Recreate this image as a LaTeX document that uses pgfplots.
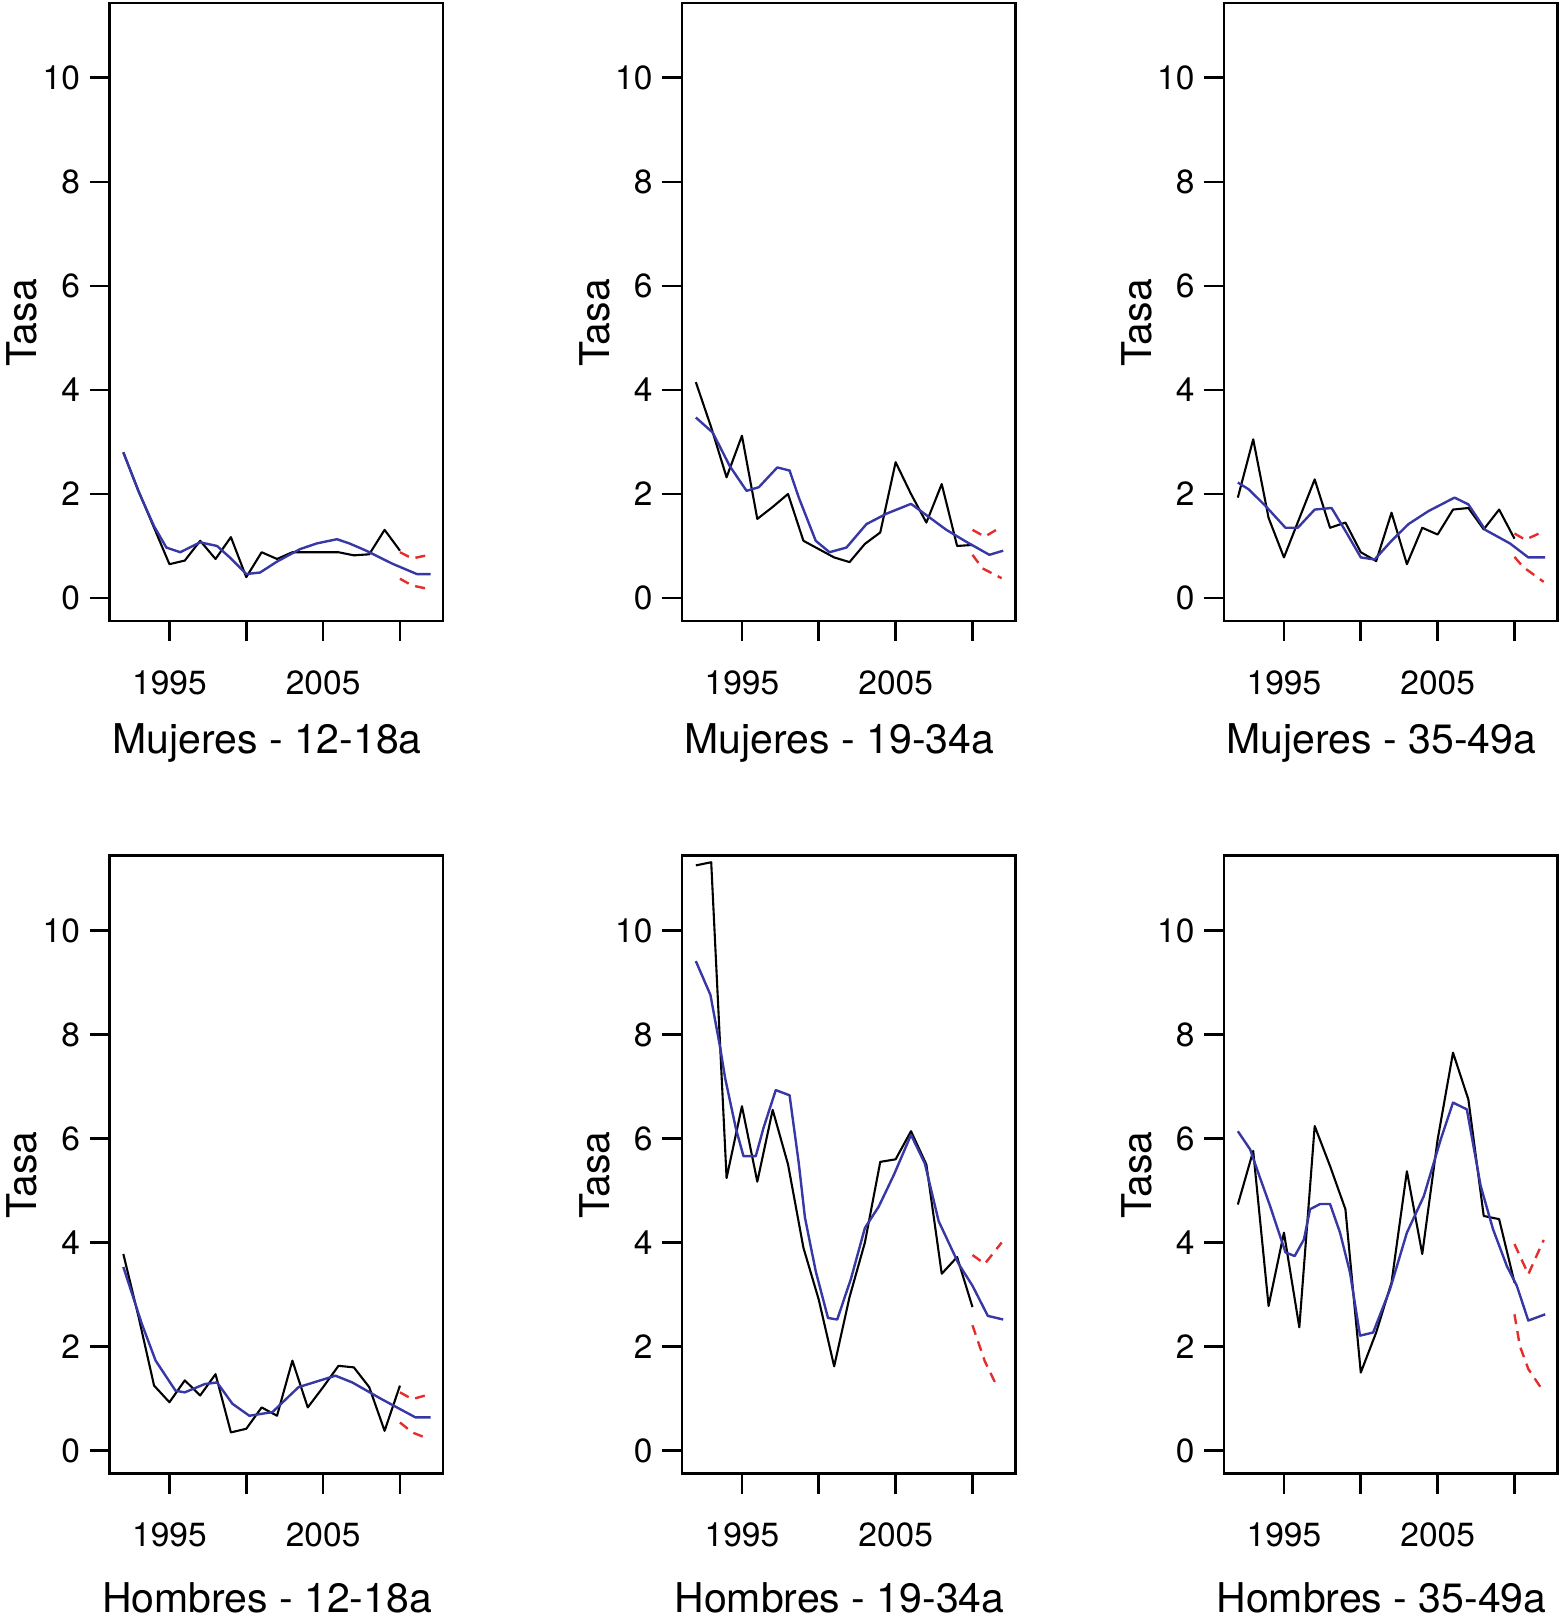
\documentclass[border=0pt]{standalone}
\usepackage{fontspec}
\setmainfont{TeX Gyre Heros}
\usepackage{pgfplots}
\pgfplotsset{compat=1.18}
\definecolor{fitblue}{RGB}{55,55,165}
\definecolor{pired}{RGB}{230,45,45}
\pgfplotsset{
  panel/.style={
    scale only axis, width=166.75pt, height=309pt,
    xmin=1991.1, xmax=2012.8, ymin=-0.44, ymax=11.44,
    axis line style={line width=1.3pt, black},
    xtick={1995,2000,2005,2010}, xticklabels={1995,,2005,},
    ytick={0,2,4,6,8,10},
    xtick pos=left, ytick pos=left,
    tick align=outside,
    major tick length=10pt,
    every tick/.style={line width=1.3pt, black},
    ticklabel style={font=\fontsize{16.75}{20}\selectfont},
    /pgf/number format/assume math mode=true,
    yticklabel style={anchor=east, inner sep=0pt, xshift=-4.6pt},
    xticklabel style={anchor=north, inner sep=0pt, yshift=-14.5pt},
    ylabel={Tasa},
    ylabel style={at={(axis description cs:-0.2183,0.4827)}, anchor=base, font=\fontsize{20.5}{24}\selectfont},
    label style={font=\fontsize{20.5}{24}\selectfont},
    clip=true,
  },
  toprow/.style={xlabel style={at={(axis description cs:0.4723,-0.2141)}, anchor=base}},
  botrow/.style={xlabel style={at={(axis description cs:0.4723,-0.2254)}, anchor=base}},
  obs/.style={line width=1.05pt, black, no markers, line join=round},
  fit/.style={line width=1.2pt, fitblue, no markers, line join=round},
  pi/.style={line width=1.2pt, pired, no markers, dash pattern=on 5pt off 3.5pt},
}
\begin{document}
\begin{tikzpicture}
\path[use as bounding box] (0,0) rectangle (780pt,811.5pt);
% ---------- Mujeres 12-18a
\begin{axis}[panel, toprow, at={(54.75pt,501.05pt)}, anchor=south west, xlabel={Mujeres - 12-18a}]
\addplot[obs] coordinates {(1992,2.80)(1993,2.05)(1994,1.35)(1995,0.65)(1996,0.72)(1997,1.10)(1998,0.75)(1999,1.17)(2000,0.40)(2001,0.88)(2002,0.75)(2003,0.88)(2004,0.88)(2005,0.88)(2006,0.88)(2007,0.82)(2008,0.84)(2009,1.31)(2010,0.91)};
\addplot[fit] coordinates {(1992,2.80)(1993,2.04)(1994,1.38)(1994.8,0.97)(1995.7,0.88)(1997,1.07)(1998.1,1.0)(1999,0.76)(2000,0.46)(2000.9,0.49)(2002,0.70)(2003.5,0.94)(2004.6,1.05)(2005.9,1.13)(2006.7,1.05)(2007.8,0.91)(2009.5,0.66)(2011.1,0.46)(2012,0.46)};
\addplot[pi] coordinates {(2010,0.88)(2010.8,0.76)(2011.9,0.83)};
\addplot[pi] coordinates {(2010,0.37)(2010.8,0.24)(2011.9,0.17)};
\end{axis}
% ---------- Mujeres 19-34a
\begin{axis}[panel, toprow, at={(341pt,501.05pt)}, anchor=south west, xlabel={Mujeres - 19-34a}]
\addplot[obs] coordinates {(1992,4.15)(1993,3.28)(1994,2.32)(1995,3.12)(1996,1.52)(1997,1.75)(1998,2.00)(1999,1.10)(2000,0.94)(2001,0.78)(2002,0.69)(2003,1.04)(2004,1.26)(2005,2.61)(2006,2.00)(2007,1.45)(2008,2.19)(2009,1.00)(2010,1.02)};
\addplot[fit] coordinates {(1992,3.47)(1993.1,3.18)(1994.2,2.54)(1995.3,2.06)(1996.1,2.13)(1997.3,2.51)(1998.1,2.45)(1998.7,1.93)(1999.8,1.10)(2000.7,0.88)(2001.8,0.97)(2003.1,1.42)(2004.4,1.62)(2006,1.81)(2007.2,1.55)(2008.3,1.31)(2009.6,1.08)(2011.1,0.83)(2012,0.91)};
\addplot[pi] coordinates {(2010,1.31)(2010.8,1.18)(2011.9,1.37)};
\addplot[pi] coordinates {(2010,0.83)(2010.65,0.57)(2011.9,0.38)};
\end{axis}
% ---------- Mujeres 35-49a
\begin{axis}[panel, toprow, at={(612pt,501.05pt)}, anchor=south west, xlabel={Mujeres - 35-49a}]
\addplot[obs] coordinates {(1992,1.93)(1993,3.05)(1994,1.54)(1995,0.78)(1996,1.53)(1997,2.28)(1998,1.35)(1999,1.45)(2000,0.88)(2001,0.71)(2002,1.64)(2003,0.65)(2004,1.35)(2005,1.22)(2006,1.70)(2007,1.73)(2008,1.32)(2009,1.70)(2010,1.14)};
\addplot[fit] coordinates {(1992,2.22)(1992.7,2.09)(1993.8,1.77)(1995.1,1.35)(1995.9,1.35)(1997,1.70)(1998.1,1.73)(1999,1.29)(2000,0.78)(2000.9,0.74)(2002,1.10)(2003.1,1.42)(2004.4,1.67)(2006.1,1.93)(2007,1.80)(2008.1,1.31)(2009.7,1.05)(2010.9,0.78)(2012,0.78)};
\addplot[pi] coordinates {(2010,1.24)(2010.7,1.12)(2011.9,1.28)};
\addplot[pi] coordinates {(2010,0.79)(2010.55,0.60)(2011.9,0.31)};
\end{axis}
% ---------- Hombres 12-18a
\begin{axis}[panel, botrow, at={(54.75pt,74.75pt)}, anchor=south west, xlabel={Hombres - 12-18a}]
\addplot[obs] coordinates {(1992,3.78)(1993,2.56)(1994,1.25)(1995,0.93)(1996,1.35)(1997,1.06)(1998,1.47)(1999,0.35)(2000,0.42)(2001,0.83)(2002,0.67)(2003,1.73)(2004,0.83)(2005,1.22)(2006,1.63)(2007,1.60)(2008,1.22)(2009,0.38)(2010,1.25)};
\addplot[fit] coordinates {(1992,3.53)(1993.2,2.44)(1994.1,1.73)(1995.4,1.15)(1996,1.12)(1997.3,1.28)(1998.1,1.31)(1999.1,0.90)(2000.2,0.67)(2001.7,0.74)(2003.4,1.22)(2005.8,1.44)(2006.9,1.31)(2008.8,0.99)(2011,0.64)(2012,0.64)};
\addplot[pi] coordinates {(2010,1.12)(2010.8,0.99)(2011.9,1.08)};
\addplot[pi] coordinates {(2010,0.54)(2010.8,0.35)(2011.9,0.22)};
\end{axis}
% ---------- Hombres 19-34a
\begin{axis}[panel, botrow, at={(341pt,74.75pt)}, anchor=south west, xlabel={Hombres - 19-34a}]
\addplot[obs] coordinates {(1992,11.25)(1993,11.31)(1994,5.24)(1995,6.62)(1996,5.17)(1997,6.55)(1998,5.5)(1999,3.9)(2000,2.9)(2001,1.62)(2002,2.95)(2003,4.0)(2004,5.55)(2005,5.6)(2006,6.14)(2007,5.5)(2008,3.4)(2009,3.72)(2010,2.76)};
\addplot[fit] coordinates {(1992,9.41)(1992.95,8.76)(1993.6,7.72)(1993.9,7.17)(1994.6,6.2)(1995.1,5.66)(1995.9,5.66)(1996.4,6.2)(1997.2,6.93)(1998.1,6.83)(1998.7,5.52)(1999.1,4.48)(1999.8,3.45)(2000.6,2.55)(2001.2,2.52)(2002.1,3.31)(2003,4.28)(2003.9,4.69)(2004.9,5.31)(2006,6.07)(2006.9,5.52)(2007.8,4.41)(2009.1,3.59)(2010,3.17)(2011,2.59)(2012,2.52)};
\addplot[pi] coordinates {(2010,3.76)(2010.8,3.59)(2011.9,4.0)};
\addplot[pi] coordinates {(2010,2.41)(2010.8,1.72)(2011.65,1.2)};
\end{axis}
% ---------- Hombres 35-49a
\begin{axis}[panel, botrow, at={(612pt,74.75pt)}, anchor=south west, xlabel={Hombres - 35-49a}]
\addplot[obs] coordinates {(1992,4.73)(1993,5.76)(1994,2.78)(1995,4.19)(1996,2.37)(1997,6.24)(1998,5.47)(1999,4.64)(2000,1.50)(2001,2.27)(2002,3.23)(2003,5.37)(2004,3.78)(2005,5.98)(2006,7.65)(2007,6.75)(2008,4.51)(2009,4.45)(2010,3.23)};
\addplot[fit] coordinates {(1992,6.14)(1992.8,5.79)(1993.4,5.28)(1994.1,4.70)(1995.1,3.81)(1995.7,3.74)(1996.3,4.06)(1996.7,4.64)(1997.35,4.74)(1998,4.74)(1998.65,4.19)(1999.3,3.42)(1999.95,2.21)(2000.8,2.27)(2001.9,3.10)(2003,4.19)(2004.1,4.89)(2005.2,5.98)(2006,6.69)(2006.9,6.56)(2007.8,5.09)(2008.6,4.26)(2009.5,3.55)(2010.15,3.17)(2010.9,2.50)(2012,2.62)};
\addplot[pi] coordinates {(2010,3.97)(2010.9,3.39)(2011.9,4.05)};
\addplot[pi] coordinates {(2010,2.62)(2010.35,2.01)(2010.9,1.57)(2011.85,1.15)};
\end{axis}
\end{tikzpicture}
\end{document}
